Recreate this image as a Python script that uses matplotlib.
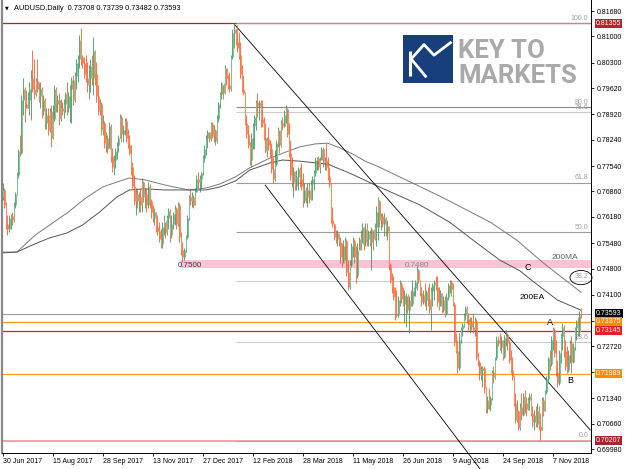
import numpy as np
import matplotlib.pyplot as plt
import matplotlib.transforms as mtransforms
from matplotlib.patches import Rectangle, Ellipse

plt.rcParams['font.family'] = ['Liberation Sans', 'DejaVu Sans']

# ---- daily AUDUSD bars, in pips (x 1e-4) ----
bar_hi = [
    7708, 7695, 7659, 7623, 7623, 7627, 7632, 7659, 7685, 7739,
    7800, 7837, 7943, 7988, 7965, 7957, 7952, 7979, 8010, 8064,
    8041, 7988, 8041, 7979, 7979, 7965, 7943, 7935, 7908, 7908,
    7908, 7917, 7917, 7970, 7965, 7943, 7948, 7934, 7926, 7934,
    7952, 7979, 7952, 7970, 7992, 7997, 8006, 8041, 8050, 8104,
    8123, 8050, 8046, 8050, 8032, 8023, 8041, 8050, 8099, 8065,
    8032, 7970, 7934, 7925, 7890, 7875, 7845, 7837, 7872, 7865,
    7801, 7783, 7801, 7819, 7837, 7894, 7890, 7863, 7881, 7881,
    7854, 7837, 7810, 7765, 7730, 7694, 7694, 7685, 7694, 7721,
    7715, 7694, 7694, 7712, 7705, 7665, 7650, 7641, 7632, 7623,
    7605, 7587, 7605, 7623, 7605, 7623, 7641, 7640, 7623, 7632,
    7650, 7645, 7659, 7655, 7578, 7552, 7534, 7570, 7623, 7676,
    7694, 7685, 7676, 7694, 7730, 7739, 7730, 7739, 7783, 7810,
    7837, 7850, 7845, 7872, 7872, 7863, 7854, 7890, 7926, 7952,
    7979, 7970, 8023, 8015, 7997, 8006, 8050, 8121, 8136, 8121,
    8130, 8112, 8086, 8023, 7997, 7952, 7890, 7863, 7819, 7841,
    7870, 7890, 7930, 7948, 7930, 7930, 7930, 7886, 7868, 7832,
    7859, 7824, 7815, 7779, 7797, 7824, 7859, 7850, 7877, 7886,
    7904, 7917, 7910, 7868, 7824, 7779, 7752, 7735, 7743, 7752,
    7752, 7761, 7735, 7708, 7699, 7708, 7708, 7717, 7726, 7743,
    7779, 7779, 7780, 7779, 7806, 7806, 7779, 7815, 7779, 7752,
    7708, 7645, 7601, 7583, 7583, 7565, 7565, 7548, 7556, 7565,
    7560, 7503, 7503, 7548, 7565, 7560, 7539, 7548, 7565, 7583,
    7601, 7592, 7601, 7601, 7583, 7583, 7592, 7583, 7601, 7646,
    7672, 7664, 7628, 7628, 7628, 7619, 7610, 7583, 7495, 7468,
    7459, 7432, 7423, 7406, 7450, 7445, 7432, 7423, 7414, 7406,
    7406, 7423, 7450, 7432, 7450, 7486, 7478, 7450, 7432, 7423,
    7441, 7423, 7432, 7441, 7432, 7441, 7450, 7459, 7459, 7432,
    7423, 7414, 7406, 7406, 7414, 7441, 7450, 7450, 7441, 7390,
    7308, 7290, 7308, 7325, 7334, 7361, 7379, 7379, 7361, 7352,
    7352, 7361, 7352, 7345, 7254, 7236, 7219, 7219, 7220, 7165,
    7139, 7160, 7140, 7210, 7219, 7245, 7299, 7299, 7308, 7299,
    7290, 7303, 7316, 7308, 7290, 7263, 7245, 7192, 7147, 7130,
    7103, 7121, 7147, 7147, 7156, 7138, 7138, 7147, 7147, 7112,
    7103, 7112, 7121, 7112, 7094, 7138, 7138, 7156, 7192, 7245,
    7263, 7299, 7325, 7320, 7290, 7236, 7263, 7308, 7334, 7330,
    7290, 7272, 7263, 7290, 7299, 7281, 7325, 7343, 7352, 7366,
    7373.9,
]
bar_lo = [
    7663, 7641, 7587, 7570, 7578, 7587, 7596, 7605, 7641, 7676,
    7721, 7780, 7785, 7890, 7872, 7908, 7908, 7890, 7877, 7952,
    7934, 7940, 7952, 7926, 7908, 7881, 7890, 7854, 7854, 7837,
    7845, 7805, 7825, 7875, 7899, 7899, 7863, 7875, 7890, 7881,
    7899, 7890, 7899, 7872, 7868, 7917, 7925, 7961, 7979, 8015,
    8023, 8015, 7988, 7979, 7952, 7934, 7952, 7970, 7943, 7970,
    7926, 7890, 7890, 7837, 7837, 7801, 7792, 7788, 7801, 7765,
    7739, 7730, 7748, 7774, 7792, 7828, 7819, 7819, 7837, 7819,
    7801, 7783, 7730, 7694, 7650, 7623, 7641, 7632, 7632, 7632,
    7659, 7641, 7632, 7641, 7641, 7614, 7605, 7596, 7578, 7570,
    7552, 7534, 7534, 7570, 7561, 7570, 7587, 7552, 7561, 7587,
    7596, 7587, 7595, 7552, 7516, 7498, 7503, 7525, 7560, 7610,
    7650, 7645, 7641, 7650, 7685, 7694, 7685, 7694, 7730, 7765,
    7783, 7801, 7819, 7820, 7828, 7819, 7810, 7815, 7872, 7908,
    7934, 7934, 7945, 7970, 7961, 7952, 7955, 8040, 8068, 8077,
    8059, 8041, 7988, 7952, 7943, 7863, 7828, 7801, 7757, 7752,
    7800, 7800, 7850, 7886, 7877, 7859, 7859, 7824, 7788, 7779,
    7797, 7779, 7735, 7708, 7715, 7755, 7806, 7788, 7805, 7850,
    7859, 7868, 7832, 7779, 7717, 7699, 7672, 7690, 7690, 7690,
    7699, 7690, 7645, 7654, 7654, 7645, 7654, 7663, 7663, 7690,
    7726, 7743, 7743, 7735, 7770, 7752, 7743, 7743, 7717, 7699,
    7601, 7592, 7556, 7548, 7539, 7539, 7494, 7485, 7494, 7503,
    7459, 7423, 7425, 7485, 7512, 7494, 7441, 7455, 7530, 7530,
    7548, 7530, 7539, 7539, 7539, 7539, 7476, 7530, 7556, 7539,
    7557, 7592, 7584, 7592, 7566, 7566, 7557, 7477, 7441, 7414,
    7397, 7343, 7352, 7350, 7379, 7388, 7379, 7334, 7325, 7361,
    7307, 7379, 7380, 7406, 7406, 7423, 7441, 7406, 7379, 7385,
    7379, 7370, 7379, 7361, 7316, 7379, 7397, 7423, 7379, 7370,
    7379, 7361, 7365, 7352, 7355, 7397, 7414, 7406, 7379, 7272,
    7254, 7201, 7210, 7281, 7299, 7325, 7343, 7334, 7316, 7307,
    7316, 7307, 7299, 7236, 7219, 7183, 7183, 7165, 7147, 7094,
    7094, 7105, 7100, 7130, 7174, 7185, 7235, 7272, 7263, 7254,
    7236, 7240, 7272, 7263, 7227, 7201, 7183, 7112, 7067, 7070,
    7049, 7050, 7076, 7085, 7094, 7085, 7103, 7103, 7085, 7058,
    7049, 7058, 7058, 7049, 7021, 7049, 7085, 7100, 7145, 7174,
    7210, 7220, 7263, 7245, 7192, 7165, 7170, 7227, 7263, 7245,
    7210, 7201, 7205, 7227, 7201, 7227, 7263, 7290, 7299, 7300,
    7348.2,
]
bar_cl = [
    7690, 7650, 7600, 7585, 7615, 7620, 7610, 7650, 7680, 7730,
    7795, 7790, 7930, 7960, 7920, 7910, 7930, 7960, 7990, 7960,
    7945, 7980, 7960, 7940, 7960, 7900, 7930, 7870, 7890, 7850,
    7900, 7830, 7880, 7960, 7920, 7930, 7880, 7910, 7900, 7920,
    7945, 7910, 7940, 7960, 7985, 7930, 7995, 8030, 8040, 8090,
    8045, 8030, 8000, 7990, 7970, 7990, 8020, 7990, 8060, 8000,
    7940, 7900, 7920, 7850, 7870, 7815, 7830, 7800, 7860, 7780,
    7750, 7770, 7795, 7810, 7830, 7885, 7840, 7850, 7875, 7830,
    7810, 7790, 7750, 7700, 7660, 7680, 7660, 7670, 7650, 7710,
    7670, 7680, 7650, 7700, 7660, 7630, 7615, 7630, 7590, 7580,
    7560, 7545, 7590, 7610, 7575, 7615, 7635, 7570, 7600, 7625,
    7640, 7600, 7650, 7565, 7530, 7510, 7530, 7565, 7615, 7670,
    7660, 7670, 7650, 7685, 7720, 7710, 7720, 7735, 7775, 7800,
    7830, 7845, 7825, 7865, 7835, 7850, 7820, 7880, 7920, 7945,
    7975, 7950, 8015, 7990, 7970, 7960, 8045, 8110, 8120, 8085,
    8070, 8050, 8000, 7960, 7950, 7870, 7840, 7810, 7770, 7830,
    7860, 7885, 7925, 7915, 7925, 7880, 7870, 7830, 7795, 7825,
    7810, 7800, 7745, 7720, 7760, 7815, 7850, 7810, 7870, 7860,
    7890, 7905, 7840, 7790, 7730, 7710, 7740, 7700, 7725, 7745,
    7720, 7700, 7660, 7690, 7670, 7690, 7665, 7705, 7720, 7735,
    7770, 7775, 7750, 7770, 7800, 7765, 7770, 7750, 7725, 7705,
    7610, 7600, 7565, 7560, 7575, 7550, 7510, 7495, 7540, 7555,
    7470, 7430, 7490, 7540, 7555, 7510, 7460, 7530, 7560, 7545,
    7590, 7550, 7585, 7560, 7575, 7550, 7585, 7560, 7590, 7630,
    7660, 7610, 7620, 7600, 7615, 7580, 7595, 7490, 7450, 7430,
    7405, 7360, 7355, 7395, 7440, 7400, 7385, 7410, 7412, 7370,
    7395, 7385, 7420, 7428, 7445, 7475, 7450, 7415, 7390, 7410,
    7395, 7418, 7400, 7370, 7420, 7435, 7445, 7430, 7390, 7380,
    7415, 7370, 7395, 7360, 7405, 7435, 7445, 7425, 7385, 7285,
    7260, 7215, 7290, 7318, 7328, 7355, 7375, 7345, 7330, 7340,
    7325, 7315, 7340, 7245, 7230, 7195, 7210, 7215, 7160, 7105,
    7130, 7115, 7135, 7205, 7190, 7240, 7290, 7280, 7270, 7290,
    7245, 7295, 7305, 7285, 7235, 7210, 7190, 7120, 7075, 7100,
    7055, 7110, 7090, 7140, 7120, 7105, 7130, 7140, 7095, 7070,
    7090, 7065, 7100, 7060, 7050, 7130, 7100, 7150, 7185, 7240,
    7225, 7290, 7315, 7255, 7205, 7175, 7255, 7300, 7325, 7260,
    7220, 7210, 7250, 7280, 7230, 7270, 7320, 7335, 7310, 7355,
    7359.3,
]
first_open = 7670
last_open = 7370.8

# ---- moving averages as drawn (bar index, price) ----
ma_idx = [0, 9, 21, 32, 42, 53, 64, 73, 81, 91, 104, 119, 130, 139, 149, 158,
          171, 181, 190, 200, 208, 216, 224, 232, 241, 258, 281, 312, 329, 346, 370]
ma_val = [0.7524, 0.7524, 0.7570, 0.7602, 0.7631, 0.7668, 0.7698, 0.7711, 0.7722,
          0.7717, 0.7703, 0.7690, 0.7695, 0.7706, 0.7725, 0.7749, 0.7775, 0.7791,
          0.7805, 0.7813, 0.7815, 0.7802, 0.7786, 0.7767, 0.7751, 0.7717, 0.7671,
          0.7604, 0.7556, 0.7495, 0.7417]
ema_idx = [0, 9, 19, 30, 41, 51, 62, 73, 81, 91, 104, 119, 130, 139, 149, 158,
           171, 179, 190, 208, 222, 241, 267, 286, 301, 318, 331, 339, 355, 370]
ema_val = [0.7522, 0.7524, 0.7543, 0.7562, 0.7575, 0.7596, 0.7631, 0.7671, 0.7690,
           0.7693, 0.7690, 0.7690, 0.7690, 0.7698, 0.7714, 0.7743, 0.7762, 0.7770,
           0.7767, 0.7759, 0.7735, 0.7698, 0.7650, 0.7604, 0.7556, 0.7503, 0.7474,
           0.7447, 0.7396, 0.7369]

dates = ['30 Jun 2017', '15 Aug 2017', '28 Sep 2017', '13 Nov 2017', '27 Dec 2017',
         '12 Feb 2018', '28 Mar 2018', '11 May 2018', '26 Jun 2018', '9 Aug 2018',
         '24 Sep 2018', '7 Nov 2018']
date_pos = [0, 32, 64, 96, 128, 160, 192, 224, 256, 288, 320, 352]
price_ticks = [0.81680, 0.81000, 0.80300, 0.79620, 0.78920, 0.78240, 0.77540, 0.76860,
               0.76180, 0.75480, 0.74800, 0.74100, 0.73410, 0.72720, 0.72030, 0.71340,
               0.70660, 0.69980]

fib_low, fib_high = 0.70207, 0.81355
fib_levels = [0.0, 23.6, 38.2, 50.0, 61.8, 78.6, 80.0, 100.0]
fib_colors = ['#a8a8a8', '#cccccc', '#cccccc', '#9c9c9c', '#9c9c9c', '#cccccc', '#8c8c8c', '#9c9c9c']

# horizontal levels: price, line colour, label box colour
hlevels = [(0.81355, '#b22222', '#b3262b'),
           (0.73375, '#ff9a1a', '#ff8c00'),
           (0.73145, '#f01818', '#ee1c24'),
           (0.71989, '#ff9a1a', '#ff8c00'),
           (0.70207, '#e8a0a0', '#a8262b')]
bid = 0.73593

hi = np.array(bar_hi) / 1e4
lo = np.array(bar_lo) / 1e4
cl = np.array(bar_cl) / 1e4
op = np.r_[first_open / 1e4, cl[:-1]]
op[-1] = last_open / 1e4
idx = np.arange(len(cl))

fig = plt.figure(figsize=(6.25, 4.69), dpi=100)
ax = fig.add_axes([2 / 625, 16 / 469, 589 / 625, 453 / 469])
ax.set_xlim(-0.45, 376.5)
ax.set_ylim(0.69874, 0.81974)

# horizontal lines
for p, lc, bc in hlevels:
    ax.axhline(p, color=lc, lw=1.3 if p < 0.71 else 0.9, zorder=1)
ax.axhline(bid, color='#9a9a9a', lw=0.8, zorder=1)

# pink zone
ax.add_patch(Rectangle((113.5, 0.7482), 376.5 - 113.5, 0.0022, fc='#fbc2d6', ec='none', zorder=0.5))

# fibonacci
for lev, fc in zip(fib_levels, fib_colors):
    p = fib_low + (fib_high - fib_low) * lev / 100
    ax.hlines(p, 149.5, 376.5, colors=fc, lw=0.8, zorder=1.2)
    ax.text(374.8, p + 0.0003, f'{lev:.1f}', ha='right', va='bottom', fontsize=5,
            color='#a0a0a0', zorder=1.1)

# moving averages
ax.plot(ma_idx, ma_val, color='#7a7a7a', lw=0.7, zorder=2)
ax.plot(ema_idx, ema_val, color='#555555', lw=0.7, zorder=2)

# channel lines
ax.plot([148.6, 376.0], [0.8131, 0.7049], color='black', lw=0.6, zorder=2)
ax.plot([168.0, 305.5], [0.7703, 0.69447], color='black', lw=0.6, zorder=2, clip_on=False)

# candles
up = cl >= op
wick_c = np.where(up, '#2b8f57', '#ff4a12')
body_c = np.where(up, '#79c598', '#ff8d62')
ax.vlines(idx, lo, hi, colors=wick_c, lw=0.55, zorder=3)
ax.vlines(idx + 0.35, np.minimum(op, cl), np.maximum(op, cl), colors=body_c, lw=0.75, zorder=3)

# annotations
ax.text(112, 0.7487, '0.7500', fontsize=5.8, color='#3a3a4a', va='center', ha='left', zorder=4)
ax.text(257, 0.7487, '0.7480', fontsize=5.8, color='#8a8a8a', va='center', ha='left', zorder=4)
ax.text(336, 0.7482, 'C', fontsize=6.5, color='black', va='center', ha='center', zorder=4)
ax.text(360, 0.7509, '200MA', fontsize=6, color='#666666', va='center', ha='center', zorder=4)
ax.text(339, 0.7402, '200EA', fontsize=6, color='black', va='center', ha='center', zorder=4)
ax.text(350.5, 0.7336, 'A', fontsize=6.5, color='black', va='center', ha='center', zorder=4)
ax.text(363, 0.7181, 'B', fontsize=6.5, color='black', va='center', ha='center', zorder=4)
ax.add_patch(Ellipse((370.1, 0.7456), 14.1, 0.0038, fill=False, ec='black', lw=0.6,
                     zorder=4, clip_on=False))

# axes styling
ax.spines['top'].set_visible(False)
ax.spines['left'].set_color('#888888')
ax.spines['left'].set_linewidth(1.6)
ax.spines['right'].set_linewidth(0.7)
ax.spines['bottom'].set_linewidth(0.7)

ax.yaxis.tick_right()
ax.set_yticks(price_ticks)
ax.set_yticklabels([f'{v:.5f}' for v in price_ticks])
ax.tick_params(axis='y', length=2.5, width=0.6, pad=1.5, labelsize=5)
ax.set_xticks(date_pos)
ax.set_xticklabels(dates)
ax.tick_params(axis='x', length=2.5, width=0.6, pad=1.2, labelsize=5)
for lab in ax.get_xticklabels():
    lab.set_ha('left')

# price boxes on the scale
trans = mtransforms.blended_transform_factory(ax.transAxes, ax.transData)
for p, lc, bc in [(bid, None, 'black')] + hlevels:
    ax.text(1.0085, p, f'{p:.5f}', transform=trans, fontsize=5, color='white',
            va='center', ha='left', clip_on=False, zorder=6,
            bbox=dict(boxstyle='square,pad=0.14', fc=bc, ec='none'))

# title
fig.text(5 / 625, 1 - 8 / 469, '\u25bc', fontsize=3.5, va='center', ha='left',
         family=['DejaVu Sans'])
fig.text(14 / 625, 1 - 8 / 469, 'AUDUSD,Daily  0.73708 0.73739 0.73482 0.73593',
         fontsize=5.3, va='center', ha='left')

# logo
lax = fig.add_axes([403 / 625, 1 - 83 / 469, 50 / 625, 48 / 469])
lax.set_xlim(0, 1)
lax.set_ylim(0, 1)
lax.axis('off')
lax.add_patch(Rectangle((0, 0), 1, 1, fc='#173f7b', ec='none'))
lax.plot([0.14, 0.14], [0.14, 0.66], color='white', lw=2.2, solid_capstyle='butt')
lax.plot([0.18, 0.42, 0.62, 0.95], [0.52, 0.80, 0.58, 0.84], color='white', lw=2.0)
lax.plot([0.18, 0.45], [0.48, 0.14], color='white', lw=2.0)
fig.text(458 / 625, 1 - 51 / 469, 'KEY TO', fontsize=18.5, color='#a9a9a9',
         family=['Roboto', 'DejaVu Sans'], weight='bold', va='center', ha='left')
fig.text(458 / 625, 1 - 76 / 469, 'MARKETS', fontsize=18.5, color='#a9a9a9',
         family=['Roboto', 'DejaVu Sans'], weight='bold', va='center', ha='left')

fig.savefig('out.png', dpi=100)
